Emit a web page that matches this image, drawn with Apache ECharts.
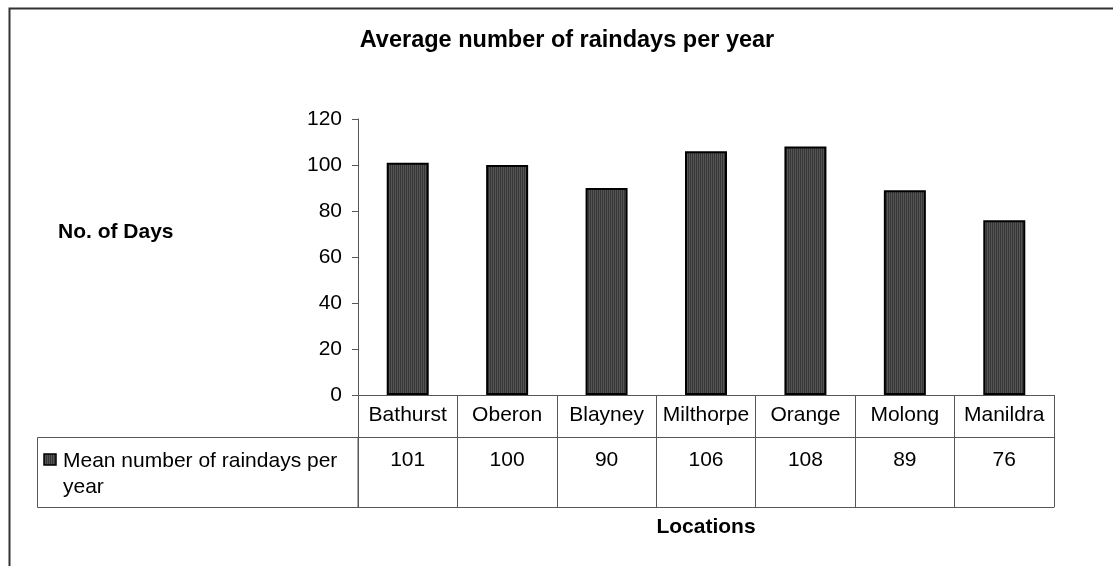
<!DOCTYPE html>
<html>
<head>
<meta charset="utf-8">
<title>Average number of raindays per year</title>
<script src="https://cdn.jsdelivr.net/npm/echarts@6/dist/echarts.min.js"></script>
<style>
  html, body { margin: 0; padding: 0; background: #fff; }
  #chart { width: 1113px; height: 566px; }
</style>
</head>
<body>
<div id="chart"></div>
<script>
// Locations and their mean number of rain days per year
const locations = ['Bathurst', 'Oberon', 'Blayney', 'Milthorpe', 'Orange', 'Molong', 'Manildra'];
const rainDays = [101, 100, 90, 106, 108, 89, 76];
const seriesName = 'Mean number of raindays per year';
const yTicks = { min: 0, max: 120, interval: 20 };

const FONT = '"Liberation Sans", Arial, sans-serif';
const LINE = '#575757';

// Vertical-stripe fill used for the bars and the key swatch
function stripeFill() {
  const c = document.createElement('canvas');
  c.width = 2; c.height = 1;
  const g = c.getContext('2d');
  g.fillStyle = '#363636'; g.fillRect(0, 0, 1, 1);
  g.fillStyle = '#555555'; g.fillRect(1, 0, 1, 1);
  return { image: c, repeat: 'repeat' };
}
const fill = stripeFill();

// Plot area and data table geometry
const plot = { left: 358, top: 119, width: 696, height: 276 };
const headerRow = 42;   // row with the location names
const tableBottom = 112; // header row + value row

const chart = echarts.init(document.getElementById('chart'), null, { renderer: 'canvas' });

chart.setOption({
  backgroundColor: '#fff',
  animation: false,
  title: [
    {
      text: 'Average number of raindays per year',
      left: 567, top: 29, padding: 0, textAlign: 'center',
      textStyle: { fontFamily: FONT, fontSize: 23.5, fontWeight: 'bold', color: '#000' }
    },
    {
      text: 'No. of Days',
      left: 58, top: 222, padding: 0,
      textStyle: { fontFamily: FONT, fontSize: 21, fontWeight: 'bold', color: '#000' }
    }
  ],
  grid: [{ left: plot.left, top: plot.top, width: plot.width, height: plot.height, containLabel: false }],
  xAxis: [
    {
      // location names form the header row of the data table
      type: 'category', gridIndex: 0, position: 'bottom', data: locations,
      boundaryGap: true,
      axisLine: { show: true, lineStyle: { color: LINE, width: 1 } },
      axisTick: { show: true, inside: false, length: tableBottom, interval: 0, lineStyle: { color: LINE, width: 1 } },
      axisLabel: { interval: 0, margin: 10, fontFamily: FONT, fontSize: 21, color: '#000' },
      splitLine: { show: false }
    },
    {
      // value row of the data table
      type: 'category', gridIndex: 0, position: 'bottom', offset: headerRow,
      data: rainDays.map(String),
      axisLine: { show: true, lineStyle: { color: LINE, width: 1 } },
      axisTick: { show: false },
      axisLabel: { interval: 0, margin: 13, fontFamily: FONT, fontSize: 21, color: '#000' },
      splitLine: { show: false }
    },
    {
      // bottom edge of the table, carrying the axis title
      type: 'category', gridIndex: 0, position: 'bottom', offset: tableBottom,
      data: locations,
      axisLine: { show: true, lineStyle: { color: LINE, width: 1 } },
      axisTick: { show: false },
      axisLabel: { show: false },
      name: 'Locations', nameLocation: 'middle', nameGap: 10,
      nameTextStyle: { fontFamily: FONT, fontSize: 21, fontWeight: 'bold', color: '#000' }
    }
  ],
  yAxis: [{
    type: 'value', gridIndex: 0,
    min: yTicks.min, max: yTicks.max, interval: yTicks.interval,
    axisLine: { show: true, lineStyle: { color: LINE, width: 1 } },
    axisTick: { show: true, inside: false, length: 6, lineStyle: { color: LINE } },
    axisLabel: { margin: 16, fontFamily: FONT, fontSize: 21, color: '#000' },
    splitLine: { show: false }
  }],
  series: [{
    name: seriesName,
    type: 'bar',
    xAxisIndex: 0, yAxisIndex: 0,
    data: rainDays,
    barWidth: 42,
    itemStyle: { color: fill, borderColor: '#000', borderWidth: 2 }
  }],
  graphic: [
    // outer frame of the chart area
    {
      type: 'rect', silent: true,
      shape: { x: 9.5, y: 8.5, width: 1300, height: 700 },
      style: { fill: null, stroke: '#333', lineWidth: 2 }
    },
    // series cell of the data table
    {
      type: 'rect', silent: true,
      shape: { x: 37.5, y: plot.top + plot.height + headerRow + 0.5, width: plot.left - 37.5, height: tableBottom - headerRow },
      style: { fill: null, stroke: LINE, lineWidth: 1 }
    },
    // key swatch
    {
      type: 'rect', silent: true,
      shape: { x: 44, y: 454, width: 12, height: 11 },
      style: { fill: fill, stroke: '#000', lineWidth: 1.5 }
    },
    {
      type: 'text', silent: true, left: 63, top: 448,
      style: {
        text: seriesName, width: 288, overflow: 'break',
        font: '21px ' + FONT, fill: '#000', lineHeight: 26
      }
    }
  ]
});
</script>
</body>
</html>
